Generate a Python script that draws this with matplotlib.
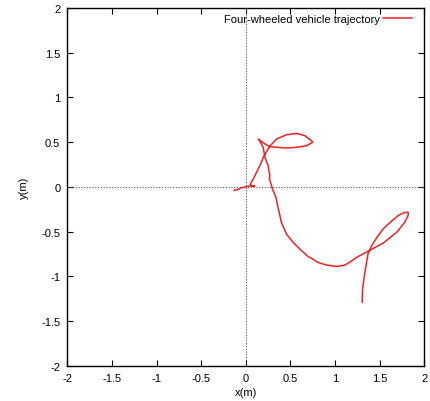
import numpy as np
from matplotlib import pyplot as plt

plt.rcParams['font.family'] = ['Liberation Sans', 'DejaVu Sans']

# trajectory, in metres
x = [-0.13, -0.09, -0.05, 0.0, 0.05, 0.10, 0.07, 0.05, 0.085, 0.12, 0.14, 0.17,
     0.196, 0.22, 0.27, 0.346, 0.458, 0.57, 0.663, 0.738, 0.75, 0.682, 0.57, 0.458,
     0.346, 0.27, 0.20, 0.14, 0.17, 0.196, 0.215, 0.25, 0.26, 0.27, 0.265, 0.29,
     0.30, 0.316, 0.338, 0.353, 0.375, 0.40, 0.458, 0.53, 0.607, 0.70, 0.738, 0.81,
     0.906, 1.02, 1.11, 1.17, 1.24, 1.37, 1.54, 1.69, 1.78, 1.82, 1.82, 1.78,
     1.71, 1.615, 1.54, 1.47, 1.41, 1.37, 1.345, 1.33, 1.31, 1.305]
y = [-0.04, -0.03, -0.01, 0.0, 0.01, 0.01, 0.01, 0.03, 0.09, 0.16, 0.20, 0.26,
     0.33, 0.37, 0.455, 0.535, 0.583, 0.598, 0.572, 0.516, 0.498, 0.46, 0.442, 0.434,
     0.442, 0.449, 0.49, 0.535, 0.49, 0.44, 0.33, 0.24, 0.18, 0.13, 0.087, 0.012,
     -0.03, -0.06, -0.117, -0.19, -0.285, -0.40, -0.53, -0.62, -0.696, -0.78, -0.80, -0.845,
     -0.875, -0.89, -0.875, -0.84, -0.79, -0.72, -0.63, -0.51, -0.40, -0.32, -0.285, -0.285,
     -0.32, -0.40, -0.47, -0.565, -0.66, -0.75, -0.90, -0.99, -1.14, -1.29]

ticks = [-2, -1.5, -1, -0.5, 0, 0.5, 1, 1.5, 2]
tick_labels = ['-2', '-1.5', '-1', '-0.5', '0', '0.5', '1', '1.5', '2']

fig = plt.figure(figsize=(4.3, 4.02), dpi=100)
ax = fig.add_axes([0.1565, 0.0878, 0.83, 0.8898])

ax.axhline(0, color='#555555', lw=0.8, ls=(0, (1, 1.5)))
ax.axvline(0, color='#555555', lw=0.8, ls=(0, (1, 1.5)))
ax.plot(x, y, color='#ee2222', lw=1.1, label='Four-wheeled vehicle trajectory')

ax.set_xlim(-2, 2)
ax.set_ylim(-2, 2)
ax.set_xticks(ticks)
ax.set_xticklabels(tick_labels)
ax.set_yticks(ticks)
ax.set_yticklabels(tick_labels)
ax.tick_params(direction='in', top=True, right=True, length=4, width=0.8,
               labelsize=8, pad=5)
for s in ax.spines.values():
    s.set_linewidth(1.0)
ax.set_xlabel('x(m)', fontsize=8, labelpad=3)
ax.set_ylabel('y(m)', fontsize=8, labelpad=9)

leg = ax.legend(loc='upper right', frameon=False, fontsize=8, markerfirst=False,
                handlelength=2.6, handletextpad=0.2, borderaxespad=0.1,
                bbox_to_anchor=(0.98, 1.0))

fig.savefig('out.png', dpi=100)
